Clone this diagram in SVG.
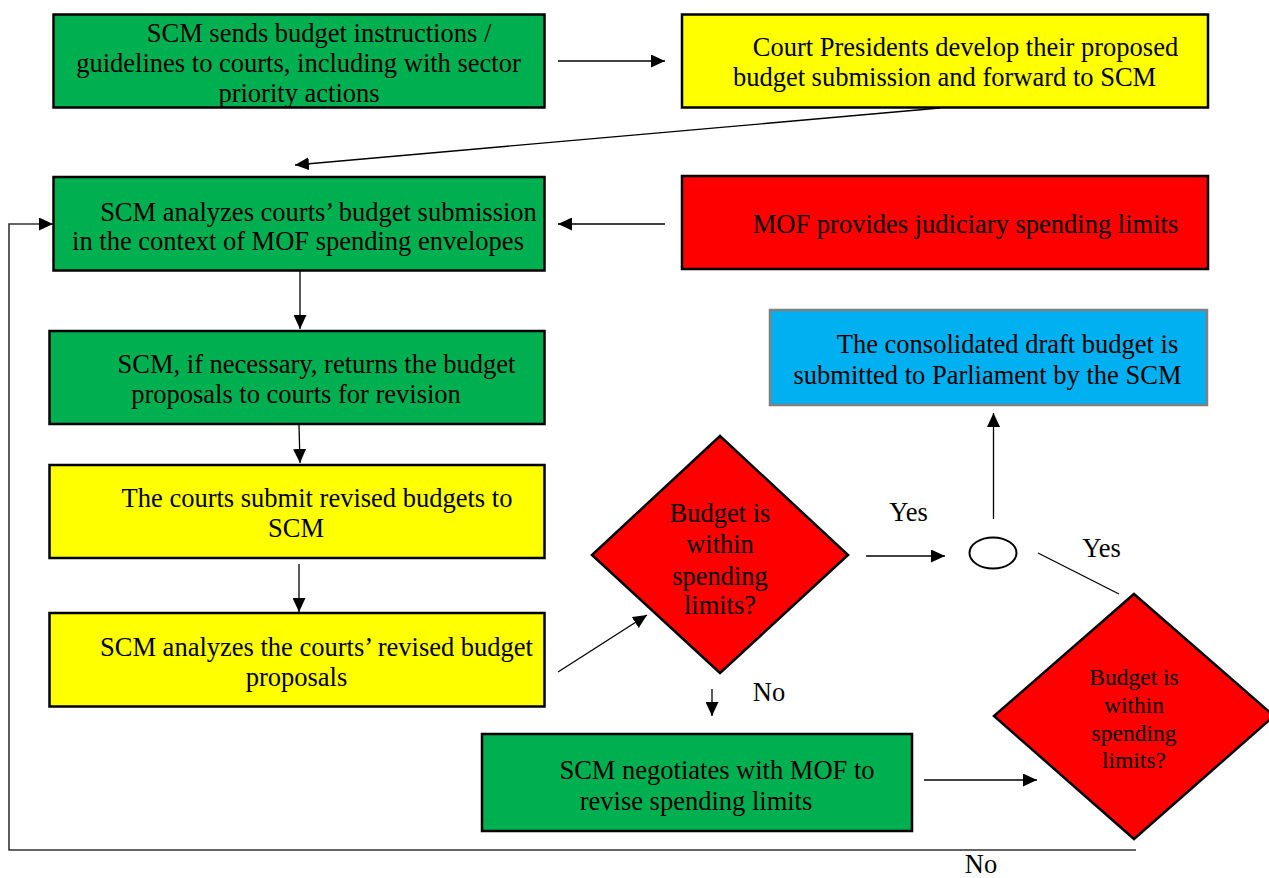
<svg xmlns="http://www.w3.org/2000/svg" width="1269" height="878" viewBox="0 0 1269 878" font-family="'Liberation Serif', 'DejaVu Serif', serif">
  <defs>
    <marker id="arrow" markerUnits="userSpaceOnUse" markerWidth="15" markerHeight="13" refX="14" refY="6.5" orient="auto">
      <path d="M0,0 L14,6.5 L0,13 z" fill="#000"/>
    </marker>
    <style>
      .box { stroke: #000; stroke-width: 2.5; }
      .green { fill: #00B050; }
      .yellow { fill: #FFFF00; }
      .red { fill: #FF0000; }
      .blue { fill: #00B0F0; stroke: #808080; stroke-width: 2.5; }
      .diamond { fill: #FF0000; stroke: #000; stroke-width: 2.5; stroke-linejoin: miter; }
      text { font-family: 'Liberation Serif', 'DejaVu Serif', serif; font-size: 26.5px; fill: #000; text-anchor: middle; }
      .small { font-size: 23.5px; }
      .conn { stroke: #000; stroke-width: 1.3; fill: none; }
      .arr { marker-end: url(#arrow); }
      .loop { stroke: #333; stroke-width: 1.6; fill: none; }
    </style>
  </defs>

  <rect width="1269" height="878" fill="#fff"/>

  <!-- connectors -->
  <g id="connectors">
    <line class="conn arr" x1="558" y1="61" x2="665" y2="61"/>
    <line class="conn arr" x1="940" y1="108" x2="295" y2="165"/>
    <line class="conn arr" x1="665" y1="224" x2="558" y2="224"/>
    <polyline class="loop arr" points="1136,850 9,850 9,224 53,224"/>
    <line class="conn arr" x1="300" y1="271" x2="300" y2="329"/>
    <line class="conn arr" x1="299" y1="425" x2="300" y2="463"/>
    <line class="conn arr" x1="299" y1="564" x2="299" y2="612"/>
    <line class="conn arr" x1="558" y1="672" x2="647" y2="615"/>
    <line class="conn arr" x1="866" y1="556" x2="945" y2="556"/>
    <line class="conn arr" x1="993.5" y1="519" x2="993.5" y2="413"/>
    <line class="conn" x1="1038" y1="553" x2="1119" y2="594"/>
    <line class="conn arr" x1="712" y1="689" x2="712" y2="716"/>
    <line class="conn arr" x1="924" y1="780" x2="1037" y2="780"/>
    <ellipse cx="993" cy="553" rx="23.5" ry="15.5" fill="#fff" stroke="#000" stroke-width="2"/>
    <text x="908.5" y="521">Yes</text>
    <text x="1101.5" y="557">Yes</text>
    <text x="769" y="701">No</text>
    <text x="981" y="873">No</text>
  </g>

  <g id="instructions">
    <rect class="box green" x="53.5" y="14.5" width="491" height="93"/>
    <text x="319" y="42">SCM sends budget instructions /</text>
    <text x="298.5" y="72">guidelines to courts, including with sector</text>
    <text x="299" y="102">priority actions</text>
  </g>

  <g id="court-presidents">
    <rect class="box yellow" x="682" y="14.5" width="526" height="93"/>
    <text x="965.5" y="56">Court Presidents develop their proposed</text>
    <text x="944.5" y="86">budget submission and forward to SCM</text>
  </g>

  <g id="scm-analyzes">
    <rect class="box green" x="53.5" y="177" width="491" height="93.5"/>
    <text x="318.5" y="221">SCM analyzes courts’ budget submission</text>
    <text x="298" y="250">in the context of MOF spending envelopes</text>
  </g>

  <g id="mof-limits">
    <rect class="box red" x="682" y="176" width="526" height="93"/>
    <text x="965.5" y="233">MOF provides judiciary spending limits</text>
  </g>

  <g id="scm-returns">
    <rect class="box green" x="49.5" y="331" width="495" height="93"/>
    <text x="316.5" y="373">SCM, if necessary, returns the budget</text>
    <text x="296" y="403">proposals to courts for revision</text>
  </g>

  <g id="courts-revise">
    <rect class="box yellow" x="49.5" y="465" width="495" height="93"/>
    <text x="317" y="507">The courts submit revised budgets to</text>
    <text x="296" y="537">SCM</text>
  </g>

  <g id="scm-analyzes-revised">
    <rect class="box yellow" x="49.5" y="613" width="495" height="93.5"/>
    <text x="316.5" y="656">SCM analyzes the courts’ revised budget</text>
    <text x="296.5" y="686">proposals</text>
  </g>

  <g id="check-limits">
    <polygon class="diamond" points="720,436 848,555 720,673 592,555"/>
    <text x="720" y="522">Budget is</text>
    <text x="720" y="553">within</text>
    <text x="720" y="585">spending</text>
    <text x="720" y="614">limits?</text>
  </g>

  <g id="submitted-parliament">
    <rect class="blue" x="770" y="310" width="437" height="95"/>
    <text x="1007.5" y="353">The consolidated draft budget is</text>
    <text x="987.5" y="384">submitted to Parliament by the SCM</text>
  </g>

  <g id="scm-negotiates">
    <rect class="box green" x="482" y="734" width="430" height="97"/>
    <text x="717" y="779">SCM negotiates with MOF to</text>
    <text x="696" y="810">revise spending limits</text>
  </g>

  <g id="check-limits-revised">
    <polygon class="diamond" points="1134,594 1274,716 1134,839 994,716"/>
    <text class="small" x="1134" y="685">Budget is</text>
    <text class="small" x="1134" y="713">within</text>
    <text class="small" x="1134" y="741">spending</text>
    <text class="small" x="1134" y="768">limits?</text>
  </g>
</svg>
